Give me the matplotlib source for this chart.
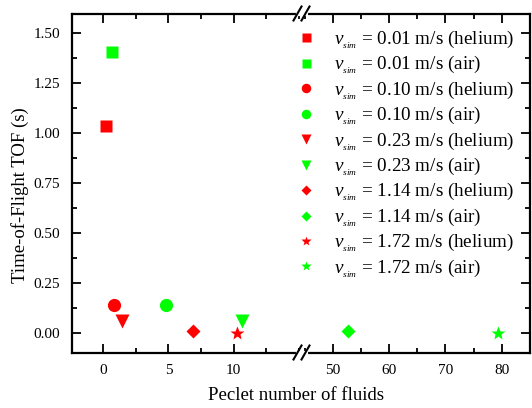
import numpy as np
import matplotlib.pyplot as plt
from matplotlib.ticker import MultipleLocator

plt.rcParams['font.family'] = 'Liberation Serif'
plt.rcParams['mathtext.fontset'] = 'custom'
plt.rcParams['mathtext.rm'] = 'Liberation Serif'
plt.rcParams['mathtext.it'] = 'Liberation Serif:italic'

# data: (speed label, fluid, Peclet number, TOF)
speeds = ['0.01', '0.01', '0.10', '0.10', '0.23', '0.23', '1.14', '1.14', '1.72', '1.72']
fluids = ['helium', 'air'] * 5
peclet = [0.18, 0.64, 0.82, 4.8, 1.44, 10.67, 6.9, 52.7, 10.28, 79.3]
tof = [1.035, 1.405, 0.14, 0.14, 0.058, 0.058, 0.008, 0.008, 0.0, 0.0]
markers = ['s', 's', 'o', 'o', 'v', 'v', 'D', 'D', '*', '*']
sizes = [9, 9, 9.5, 9.5, 9.5, 9.5, 7.5, 7.5, 10, 10]
colors = {'helium': '#ff0000', 'air': '#00ff00'}

fig = plt.figure(figsize=(5.32, 4.08), dpi=100)
W, H = 532, 408
x0, xb, x1 = 71.5, 304.5, 530
yb, yt = 352.5, 13.5
ax1 = fig.add_axes([x0 / W, 1 - yb / H, (xb - x0) / W, (yb - yt) / H])
ax2 = fig.add_axes([xb / W, 1 - yb / H, (x1 - xb) / W, (yb - yt) / H], sharey=ax1)

handles = []
for s, f, px, t, m, ms in zip(speeds, fluids, peclet, tof, markers, sizes):
    ax = ax1 if px < 20 else ax2
    ax.plot([px], [t], m, color=colors[f], ms=ms, mec='none', clip_on=False)
    h, = ax2.plot([], [], m, color=colors[f], ms=ms * 0.72, mec='none',
                  label=r'$v_{_{sim}}$' + f' = {s} m/s ({f})')
    handles.append(h)

ax1.set_xlim(-2.45, 15.45)
ax2.set_xlim(45, 85)
ax1.set_ylim(-0.1, 1.6)

for ax in (ax1, ax2):
    for sp in ax.spines.values():
        sp.set_linewidth(1.6)
    ax.tick_params(which='both', direction='in', top=True, right=True,
                   width=1.3, labelsize=11, pad=8)
    ax.tick_params(which='major', length=6.5)
    ax.tick_params(which='minor', length=3.5)
    ax.yaxis.set_minor_locator(MultipleLocator(0.125))

ax1.set_xticks([0, 5, 10])
ax1.xaxis.set_minor_locator(MultipleLocator(2.5))
ax2.set_xticks([50, 60, 70, 80])
ax2.xaxis.set_minor_locator(MultipleLocator(5))
ax1.yaxis.set_major_locator(MultipleLocator(0.25))
ax1.yaxis.set_major_formatter(plt.FormatStrFormatter('%.2f'))

ax1.spines['right'].set_visible(False)
ax2.spines['left'].set_visible(False)
ax1.tick_params(which='both', right=False)
ax2.tick_params(which='both', left=False, labelleft=False)

fig.text(20 / W, 1 - 195 / H, 'Time-of-Flight TOF (s)', fontsize=13.5,
         rotation=90, ha='center', va='center')
fig.text(296.5 / W, 1 - 396 / H, 'Peclet number of fluids', fontsize=13.5,
         ha='center', va='center')

# break marks
bx = xb - 3
for yy in (yt, yb):
    fig.add_artist(plt.Line2D([(bx - 4) / W, (bx + 4) / W], [1 - yy / H, 1 - yy / H],
                              color='white', lw=3))
    for dx in (-4, 4):
        fig.add_artist(plt.Line2D([(bx + dx - 4) / W, (bx + dx + 4) / W],
                                  [1 - (yy + 7) / H, 1 - (yy - 7) / H],
                                  color='black', lw=1.5))

ax2.legend(handles=handles, loc='upper left', bbox_to_anchor=(-0.095, 0.995),
           frameon=False, fontsize=13.8, handlelength=1.0, handletextpad=0.95,
           labelspacing=0.17, borderaxespad=0.3)

fig.savefig('out.png', dpi=100)
